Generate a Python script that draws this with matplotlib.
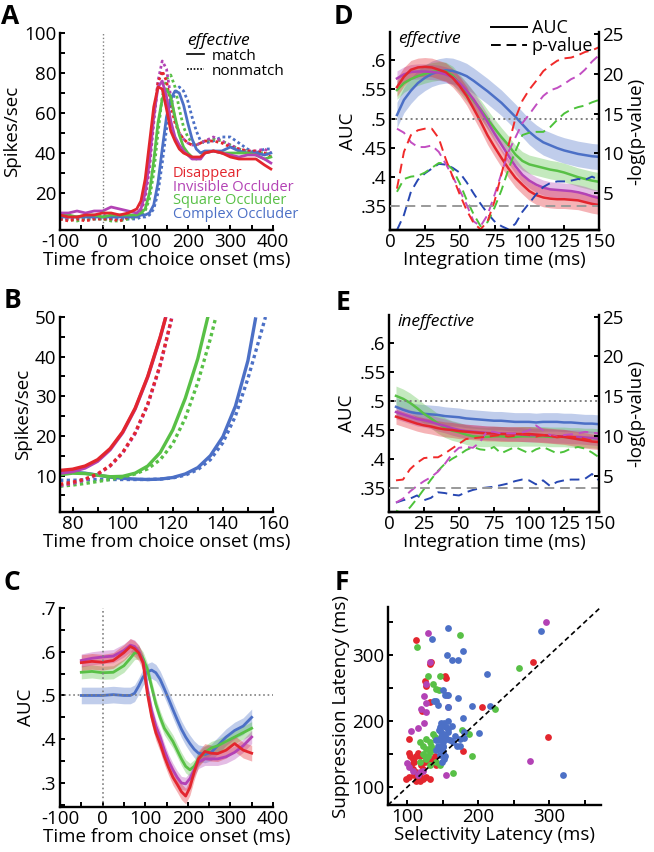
"""
Six-panel figure: firing rates (A, B), AUC time course (C), AUC / p-value vs
integration time (D effective, E ineffective) and latency scatter (F).
Outputs: out.png
"""
import numpy as np
import matplotlib
matplotlib.use("Agg")
import matplotlib.pyplot as plt
from matplotlib.lines import Line2D
from matplotlib.ticker import MultipleLocator, FixedLocator

plt.rcParams["font.family"] = ["Open Sans", "DejaVu Sans"]
plt.rcParams["axes.unicode_minus"] = False

RED, MAG, GRN, BLU = "#E3262E", "#B342B5", "#58C046", "#4C70C6"
COLS = [BLU, GRN, MAG, RED]          # drawing order, red on top
P_COLS = ["#2747B2", "#4CC23A", "#C24EC2", "#F02A2A"]
COND = ["Disappear", "Invisible Occluder", "Square Occluder", "Complex Occluder"]

# ---------------- panel A: PSTH, match (solid) / nonmatch (dotted) -------------
TA = [-100, -80, -60, -40, -20, 0, 20, 40, 60, 80, 90, 100, 110, 120, 130, 140,
      150, 160, 170, 180, 190, 200, 210, 220, 230, 240, 260, 280, 300, 320, 340,
      360, 380, 395]
a_red_m = [9, 8, 8, 9, 9, 10, 10, 9, 10, 12, 16, 27, 45, 63, 73, 72, 62, 51, 46,
           42, 40, 39, 38, 38, 38, 40, 41, 40, 38, 37, 37, 37, 34, 32]
a_red_n = [7, 6, 7, 6, 7, 7, 7, 6, 8, 9, 12, 20, 37, 58, 75, 81, 76, 64, 55, 50,
           47, 45, 44, 44, 45, 46, 46, 45, 43, 42, 41, 41, 40, 38]
a_mag_m = [10, 10, 11, 10, 11, 11, 13, 12, 11, 10, 12, 20, 36, 58, 73, 76, 68, 56,
           48, 44, 41, 39, 37, 37, 37, 40, 41, 40, 39, 38, 39, 39, 37, 35]
a_mag_n = [8, 7, 8, 8, 8, 9, 8, 8, 8, 9, 11, 17, 32, 55, 76, 86, 82, 68, 57, 50,
           47, 45, 44, 44, 45, 46, 48, 46, 44, 42, 41, 41, 42, 40]
a_grn_m = [9, 9, 8, 9, 9, 8, 9, 9, 9, 9, 10, 12, 20, 36, 55, 67, 72, 68, 58, 49,
           43, 40, 38, 37, 38, 40, 41, 40, 40, 40, 40, 39, 37, 38]
a_grn_n = [7, 7, 6, 7, 7, 7, 6, 6, 7, 8, 9, 11, 17, 30, 50, 68, 77, 79, 73, 62,
           53, 48, 45, 44, 45, 46, 47, 46, 44, 42, 41, 40, 40, 39]
a_blu_m = [8, 8, 8, 8, 8, 8, 8, 8, 8, 8, 9, 9, 10, 14, 25, 42, 58, 67, 71, 70,
           64, 55, 47, 42, 40, 41, 41, 41, 43, 41, 40, 40, 39, 40]
a_blu_n = [7, 7, 7, 7, 7, 7, 7, 7, 7, 7, 8, 8, 9, 12, 20, 35, 52, 64, 70, 73,
           71, 66, 58, 51, 46, 45, 46, 48, 48, 45, 42, 40, 42, 42]

# ---------------- panel B: onset zoom ----------------------------------------
b_red_m_t = [75, 80, 85, 90, 95, 100, 105, 110, 115, 117]
b_red_m = [11.3, 11.6, 12.4, 14, 16.8, 21, 27, 35, 45, 49.5]
b_red_n_t = [75, 80, 85, 90, 95, 100, 105, 110, 115, 119.5]
b_red_n = [7.8, 8.3, 9.1, 10.4, 12.5, 15.8, 20.8, 28, 38, 49.5]
b_mag_m_t = [75, 80, 85, 90, 95, 100, 105, 110, 115, 117.2]
b_mag_m = [10.6, 11, 11.9, 13.6, 16.5, 20.8, 26.8, 34.8, 44.8, 50]
b_mag_n_t = [75, 80, 85, 90, 95, 100, 105, 110, 115, 119.7]
b_mag_n = [7.5, 8, 8.9, 10.3, 12.4, 15.7, 20.6, 27.8, 37.8, 50]
b_grn_m_t = [75, 80, 85, 90, 95, 100, 105, 110, 115, 120, 125, 130, 134]
b_grn_m = [10.2, 10.6, 10.5, 10.1, 9.7, 9.8, 10.6, 12.4, 15.8, 21.5, 29.5, 39.5,
           50]
b_grn_n_t = [75, 80, 85, 90, 95, 100, 105, 110, 115, 120, 125, 130, 135, 137]
b_grn_n = [7.3, 7.6, 8, 8.5, 9, 9.6, 10.4, 11.7, 14, 18, 24.5, 33.5, 44.5, 49.5]
b_blu_m_t = [75, 80, 85, 90, 95, 100, 105, 110, 115, 120, 125, 130, 135, 140,
             145, 150, 153]
b_blu_m = [10.5, 10.8, 10.6, 10.1, 9.6, 9.3, 9.1, 9, 9.1, 9.5, 10.4, 12, 15,
           19.8, 27.5, 39, 49.5]
b_blu_n_t = [75, 80, 85, 90, 95, 100, 105, 110, 115, 120, 125, 130, 135, 140,
             145, 150, 155, 157]
b_blu_n = [8.8, 8.8, 8.9, 9, 9, 9, 9, 9, 9.1, 9.4, 10.1, 11.5, 14, 18.3, 25,
           34.5, 45.5, 50]

# ---------------- panel C: AUC over time --------------------------------------
TC = [-50, -25, 0, 25, 50, 65, 75, 85, 95, 105, 115, 125, 135, 145, 155, 165,
      175, 185, 195, 205, 215, 225, 240, 255, 270, 290, 310, 330, 350]
c_red = [.575, .578, .576, .58, .598, .612, .607, .597, .575, .505, .452, .415,
         .39, .36, .335, .313, .297, .28, .27, .29, .325, .355, .372, .368, .367,
         .375, .39, .375, .368]
c_mag = [.58, .585, .588, .59, .603, .615, .612, .60, .578, .515, .465, .43, .405,
         .375, .35, .33, .313, .30, .298, .31, .33, .348, .355, .355, .355, .36,
         .37, .385, .405]
c_grn = [.553, .555, .552, .553, .568, .585, .597, .598, .585, .56, .52, .48, .45,
         .425, .41, .395, .375, .355, .338, .33, .338, .355, .37, .38, .385, .395,
         .405, .415, .425]
c_blu = [.50, .50, .50, .502, .50, .50, .505, .522, .542, .554, .558, .552, .537,
         .515, .492, .468, .445, .423, .405, .39, .377, .368, .365, .37, .385,
         .405, .42, .43, .45]
c_sem = [.018, .015, .015, .019]     # red, magenta, green, blue

# ---------------- panels D / E: AUC and -log(p) vs integration time ----------
TD = [5, 10, 15, 20, 25, 30, 35, 40, 45, 50, 55, 60, 65, 70, 75, 80, 85, 90, 95,
      100, 105, 110, 115, 120, 125, 130, 135, 140, 145, 150]
d_auc_red = [.554, .572, .584, .588, .589, .588, .584, .580, .570, .556, .539,
             .517, .495, .471, .451, .432, .414, .398, .386, .375, .368, .364,
             .362, .361, .361, .36, .359, .356, .353, .351]
d_auc_mag = [.569, .576, .58, .581, .581, .58, .579, .576, .571, .561, .548, .533,
             .514, .494, .474, .455, .436, .418, .403, .393, .386, .381, .378,
             .377, .376, .375, .373, .37, .366, .363]
d_auc_grn = [.549, .561, .568, .573, .577, .58, .582, .581, .574, .56, .546, .531,
             .516, .499, .483, .468, .454, .438, .427, .421, .418, .415, .412,
             .41, .407, .403, .399, .396, .393, .391]
d_auc_blu = [.506, .532, .548, .561, .570, .577, .581, .583, .582, .578, .573,
             .565, .556, .547, .537, .527, .515, .503, .49, .477, .467, .459, .454,
             .449, .445, .442, .439, .437, .435, .434]
d_sem = [.016, .013, .016, .022]
d_p_red = [5.6, 10.2, 12.3, 12.9, 13.1, 13.1, 11.9, 9.3, 7.1, 4.9, 2.9, 1.3, 0.5,
           1.5, 4.0, 7.4, 11.0, 14.4, 16.6, 18.0, 19.1, 20.3, 21.0, 21.6, 21.9,
           22.0, 22.3, 22.7, 22.9, 23.3]
d_p_mag = [13.1, 12.6, 11.4, 10.8, 10.8, 11.0, 10.2, 8.7, 7.1, 5.4, 3.6, 1.5, 0.9,
           2.3, 4.8, 7.5, 10.2, 12.0, 13.8, 14.9, 16.1, 17.2, 17.9, 18.2, 18.7,
           19.3, 19.7, 20.5, 21.5, 22.3]
d_p_grn = [5.2, 6.8, 7.1, 7.2, 7.6, 8.2, 8.8, 8.8, 8.0, 6.3, 4.2, 2.4, 0.9, 1.4,
           3.2, 5.4, 8.0, 10.3, 12.3, 12.6, 12.7, 12.7, 13.3, 14.2, 15.0, 15.5,
           15.8, 16.0, 16.4, 16.7]
d_p_blu = [0.4, 2.3, 5.2, 6.7, 7.5, 8.1, 8.7, 8.6, 8.2, 7.6, 6.4, 5.0, 3.7, 2.5,
           1.5, 0.9, 0.5, 1.2, 2.7, 3.8, 4.9, 5.8, 6.3, 6.5, 6.5, 6.6, 6.8, 6.7,
           7.1, 6.7]

e_auc_red = [.473, .469, .465, .461, .458, .456, .453, .451, .45, .448, .447, .446,
             .445, .444, .444, .443, .443, .443, .443, .443, .442, .441, .44, .439,
             .438, .436, .434, .432, .43, .429]
e_auc_mag = [.481, .477, .473, .469, .467, .464, .46, .457, .453, .45, .448, .447,
             .446, .445, .444, .444, .443, .443, .442, .441, .441, .441, .44, .439,
             .439, .438, .438, .437, .436, .435]
e_auc_grn = [.509, .504, .497, .488, .478, .47, .461, .454, .449, .446, .442, .439,
             .438, .438, .439, .439, .438, .438, .439, .439, .439, .439, .438, .438,
             .438, .437, .437, .436, .436, .435]
e_auc_blu = [.49, .485, .481, .479, .478, .477, .476, .474, .473, .472, .47, .469,
             .468, .467, .466, .466, .465, .464, .464, .464, .463, .464, .464, .464,
             .463, .463, .462, .461, .461, .46]
e_sem = [.013, .012, .017, .016]
e_p_red = [4.4, 4.5, 5.8, 6.6, 7.2, 7.3, 7.3, 7.8, 8.4, 9.0, 9.6, 9.7, 9.8, 9.9,
           10.0, 10.1, 9.9, 10.0, 10.2, 10.1, 9.9, 10.1, 10.0, 9.8, 9.9, 9.9, 9.8,
           9.6, 9.4, 9.2]
e_p_mag = [1.6, 2.1, 3.0, 3.7, 4.3, 4.8, 5.5, 6.5, 7.7, 8.5, 8.6, 8.5, 9.2, 10.6,
           10.5, 10.3, 10.3, 10.3, 10.4, 10.7, 11.3, 10.7, 10.1, 9.9, 10.1, 10.2,
           10.3, 10.5, 10.4, 10.3]
e_p_grn = [0.6, 0.2, 1.0, 2.1, 3.3, 4.5, 5.6, 6.5, 7.1, 7.6, 8.2, 8.6, 8.3, 8.2,
           8.6, 7.8, 8.2, 8.6, 8.2, 7.8, 8.3, 8.6, 8.2, 7.8, 8.0, 8.4, 8.6, 8.4,
           7.9, 7.3]
e_p_blu = [1.6, 1.9, 2.1, 2.5, 1.9, 2.2, 2.9, 2.8, 2.6, 2.5, 2.9, 3.2, 3.4, 3.5,
           3.6, 3.8, 4.0, 4.3, 4.5, 4.4, 3.9, 4.4, 3.7, 4.2, 4.4, 4.5, 4.5, 4.6,
           5.2, 4.4]
P_THRESH = 3.45

# ---------------- panel F: latency scatter ------------------------------------
f_blu_x = [158, 135, 179, 156, 163, 171, 212, 191, 216, 172, 158, 150, 153, 157,
           140, 143, 179, 157, 152, 149, 146, 145, 148, 150, 153, 148, 146, 144,
           151, 156, 160, 165, 170, 175, 180, 201, 151, 146, 153, 152, 149, 320,
           289, 138, 163, 168, 158, 155, 141, 151, 150, 146, 141, 180, 175, 147,
           151, 158]
f_blu_y = [341, 325, 306, 300, 293, 293, 272, 223, 223, 235, 222, 248, 240, 239,
           231, 224, 205, 201, 198, 194, 191, 186, 183, 181, 178, 176, 171, 163,
           161, 173, 171, 168, 163, 163, 174, 182, 153, 149, 148, 143, 138, 119,
           336, 231, 193, 178, 183, 191, 171, 168, 163, 158, 156, 183, 173, 198,
           192, 188]
f_red_x = [113, 132, 133, 153, 154, 125, 127, 132, 121, 205, 277, 298, 179, 103,
           104, 108, 110, 113, 115, 118, 106, 108, 113, 118, 122, 110, 115, 99,
           102, 118, 122, 127, 132, 113, 120, 125, 132, 137, 141, 139, 103]
f_red_y = [323, 287, 290, 269, 266, 261, 254, 229, 216, 222, 290, 176, 155, 152,
           148, 143, 138, 148, 152, 148, 133, 128, 123, 120, 128, 118, 113, 113,
           115, 110, 113, 115, 113, 110, 133, 138, 143, 138, 133, 148, 173]
f_grn_x = [114, 175, 146, 129, 137, 141, 145, 223, 257, 191, 165, 127, 132, 118,
           122, 127, 132, 137, 141, 122, 118, 137, 139, 125, 130, 141, 146, 132,
           127, 177, 187, 134]
f_grn_y = [312, 331, 268, 268, 256, 249, 247, 219, 281, 148, 122, 173, 168, 168,
           163, 158, 153, 158, 173, 151, 138, 181, 176, 148, 148, 138, 133, 133,
           143, 187, 181, 163]
f_mag_x = [295, 130, 132, 123, 126, 119, 126, 106, 115, 123, 155, 273, 100, 103,
           108, 118, 122, 115, 157, 127, 156]
f_mag_y = [350, 334, 289, 238, 227, 218, 214, 185, 189, 197, 119, 139, 136, 130,
           125, 123, 125, 118, 222, 256, 240]

# -------------------- plot --------------------
W, H = 654, 852
fig = plt.figure(figsize=(W / 100, H / 100), dpi=100)


def rect(l, t, r, b):
    return [l / W, 1 - b / H, (r - l) / W, (b - t) / H]


FS = 13.5
TICK = dict(which="both", direction="in", length=3.5, width=1.4,
            labelsize=FS, pad=2.5)


def style(ax, right=False):
    ax.spines["top"].set_visible(False)
    if not right:
        ax.spines["right"].set_visible(False)
    for s in ax.spines.values():
        s.set_linewidth(1.7)
    ax.tick_params(**TICK)


dot = (0, (1, 1))
dash = (0, (5, 3))

# ---- A
axA = fig.add_axes(rect(60, 33, 273, 230))
a_match = [a_blu_m, a_grn_m, a_mag_m, a_red_m]
a_non = [a_blu_n, a_grn_n, a_mag_n, a_red_n]
for c, n in zip(COLS, a_non):
    axA.plot(TA, n, color=c, lw=2.0, ls=dot)
for c, m in zip(COLS, a_match):
    axA.plot(TA, m, color=c, lw=2.0)
axA.axvline(0, color="grey", ls=":", lw=1)
axA.set_xlim(-100, 400)
axA.set_ylim(1.5, 100)
axA.xaxis.set_major_locator(MultipleLocator(100))
axA.xaxis.set_minor_locator(MultipleLocator(50))
axA.yaxis.set_major_locator(FixedLocator([20, 40, 60, 80, 100]))
axA.yaxis.set_minor_locator(MultipleLocator(10))
axA.set_xlabel("Time from choice onset (ms)", fontsize=FS, labelpad=0)
axA.set_ylabel("Spikes/sec", fontsize=FS, labelpad=2)
style(axA)
hd = [Line2D([], [], color="k", lw=1.2), Line2D([], [], color="k", lw=1.2, ls=dot)]
lg = axA.legend(hd, ["match", "nonmatch"], title="effective", frameon=False,
                fontsize=11, title_fontsize=12.5, handlelength=1.1,
                handletextpad=0.5, labelspacing=0.0, borderpad=0,
                loc="upper left", bbox_to_anchor=(0.56, 1.04), alignment="left")
lg.get_title().set_style("italic")
for i, (name, c) in enumerate(zip(COND, [RED, MAG, GRN, BLU])):
    axA.text(0.53, 0.285 - i * 0.068, name, color=c, fontsize=10.5,
             transform=axA.transAxes, va="center", ha="left")

# ---- B
axB = fig.add_axes(rect(60, 317, 273, 512))
b_sets = [(b_blu_m_t, b_blu_m, b_blu_n_t, b_blu_n, BLU),
          (b_grn_m_t, b_grn_m, b_grn_n_t, b_grn_n, GRN),
          (b_mag_m_t, b_mag_m, b_mag_n_t, b_mag_n, MAG),
          (b_red_m_t, b_red_m, b_red_n_t, b_red_n, RED)]
for tm, m, tn, n, c in b_sets:
    axB.plot(tn, n, color=c, lw=2.4, ls=dot)
    axB.plot(tm, m, color=c, lw=2.4)
axB.set_xlim(75, 160)
axB.set_ylim(0.8, 50)
axB.xaxis.set_major_locator(FixedLocator([80, 100, 120, 140, 160]))
axB.xaxis.set_minor_locator(MultipleLocator(10))
axB.yaxis.set_major_locator(MultipleLocator(10))
axB.yaxis.set_minor_locator(MultipleLocator(5))
axB.set_xlabel("Time from choice onset (ms)", fontsize=FS, labelpad=0)
axB.set_ylabel("Spikes/sec", fontsize=FS, labelpad=2)
style(axB)

# ---- C
axC = fig.add_axes(rect(60, 608, 273, 807))
c_vals = [c_blu, c_grn, c_mag, c_red]
c_err = [c_sem[3], c_sem[2], c_sem[1], c_sem[0]]
tc = np.array(TC)
for c, v, e in zip(COLS, c_vals, c_err):
    v = np.array(v)
    axC.fill_between(tc, v - e, v + e, color=c, alpha=0.35, lw=0)
for c, v in zip(COLS, c_vals):
    axC.plot(tc, v, color=c, lw=2.0)
axC.axvline(0, color="grey", ls=":", lw=1.2)
axC.axhline(0.5, color="grey", ls=":", lw=1.2)
axC.set_xlim(-100, 400)
axC.set_ylim(0.245, 0.7)
axC.xaxis.set_major_locator(MultipleLocator(100))
axC.xaxis.set_minor_locator(MultipleLocator(50))
axC.yaxis.set_major_locator(FixedLocator([.3, .4, .5, .6, .7]))
axC.yaxis.set_minor_locator(MultipleLocator(0.05))
axC.set_yticklabels([".3", ".4", ".5", ".6", ".7"])
axC.set_xlabel("Time from choice onset (ms)", fontsize=FS, labelpad=0)
axC.set_ylabel("AUC", fontsize=FS, labelpad=4)
style(axC)


# ---- D and E
def auc_panel(r, aucs, sems, ps, tag, legend):
    ax = fig.add_axes(rect(*r))
    t = np.array(TD)
    for c, v, e in zip(COLS, aucs, sems):
        v = np.array(v)
        ax.fill_between(t, v - e, v + e, color=c, alpha=0.35, lw=0)
    for c, v in zip(COLS, aucs):
        ax.plot(t, v, color=c, lw=1.8)
    ax.axhline(0.5, color="grey", ls=":", lw=1.4)
    ax.set_xlim(0, 150)
    ax.set_ylim(0.308, 0.649)
    ax.xaxis.set_major_locator(MultipleLocator(25))
    ax.yaxis.set_major_locator(FixedLocator([.35, .4, .45, .5, .55, .6]))
    ax.set_yticklabels([".35", ".4", ".45", ".5", ".55", ".6"])
    ax.set_xlabel("Integration time (ms)", fontsize=FS, labelpad=0)
    ax.set_ylabel("AUC", fontsize=FS, labelpad=2)
    style(ax)
    ax.text(0.04, 0.965, tag, style="italic", fontsize=12.5,
            transform=ax.transAxes, va="center", ha="left")
    tw = ax.twinx()
    for c, p in zip(P_COLS, ps):
        tw.plot(t, p, color=c, lw=1.4, ls=dash)
    tw.axhline(P_THRESH, color="#999999", ls=dash, lw=1.4)
    tw.set_ylim(0.42, 25.2)
    tw.yaxis.set_major_locator(MultipleLocator(5))
    tw.set_ylabel("-log(p-value)", fontsize=FS, labelpad=2)
    style(tw, right=True)
    tw.spines["left"].set_visible(False)
    if legend:
        hd = [Line2D([], [], color="k", lw=1.4),
              Line2D([], [], color="k", lw=1.4, ls=dash)]
        tw.legend(hd, ["AUC", "p-value"], frameon=False, fontsize=13,
                  handlelength=2.0, handletextpad=0.25, labelspacing=0.0,
                  borderpad=0, loc="upper left", bbox_to_anchor=(0.44, 1.11))
    return ax


axD = auc_panel((390, 32, 599, 230),
                [d_auc_blu, d_auc_grn, d_auc_mag, d_auc_red],
                [d_sem[3], d_sem[2], d_sem[1], d_sem[0]],
                [d_p_blu, d_p_grn, d_p_mag, d_p_red], "effective", True)
axE = auc_panel((389, 315, 599, 512),
                [e_auc_blu, e_auc_grn, e_auc_mag, e_auc_red],
                [e_sem[3], e_sem[2], e_sem[1], e_sem[0]],
                [e_p_blu, e_p_grn, e_p_mag, e_p_red], "ineffective", False)

# ---- F
axF = fig.add_axes(rect(388, 607, 601, 805))
for xs, ys, c in [(f_red_x, f_red_y, RED), (f_mag_x, f_mag_y, MAG),
                  (f_grn_x, f_grn_y, GRN), (f_blu_x, f_blu_y, BLU)]:
    axF.scatter(xs, ys, s=24, color=c, lw=0)
lims = (73, 373)
axF.plot(lims, lims, color="k", ls=(0, (3, 2)), lw=1.2)
axF.set_xlim(*lims)
axF.set_ylim(*lims)
axF.xaxis.set_major_locator(MultipleLocator(100))
axF.xaxis.set_minor_locator(MultipleLocator(50))
axF.yaxis.set_major_locator(MultipleLocator(100))
axF.yaxis.set_minor_locator(MultipleLocator(50))
axF.set_xlabel("Selectivity Latency (ms)", fontsize=FS, labelpad=0)
axF.set_ylabel("Suppression Latency (ms)", fontsize=FS, labelpad=2)
style(axF)

# panel letters
for lab, x, y in [("A", 10, 16), ("B", 13, 300), ("C", 12, 582),
                  ("D", 343, 16), ("E", 343, 302), ("F", 342, 583)]:
    fig.text(x / W, 1 - y / H, lab, fontsize=19, fontweight="bold",
             ha="center", va="center")

fig.savefig("out.png", dpi=100)
